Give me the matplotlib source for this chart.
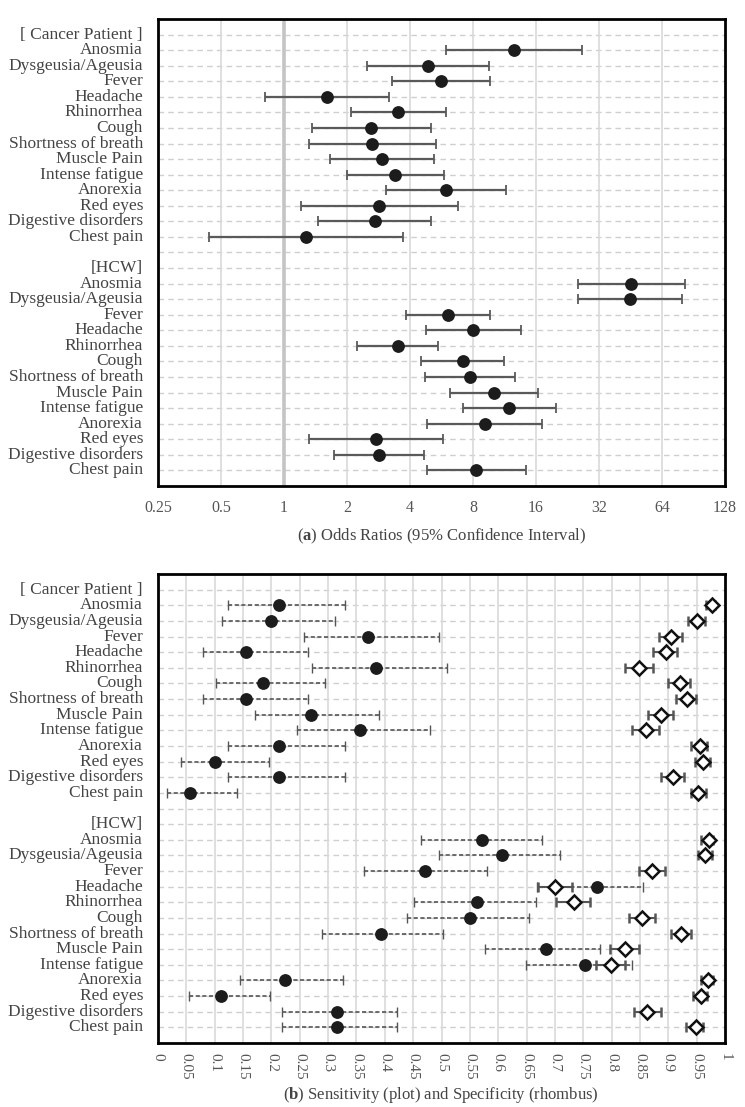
import matplotlib
matplotlib.use("Agg")
import matplotlib.pyplot as plt
import matplotlib.transforms as mtrans
from matplotlib.ticker import FixedLocator, FixedFormatter
import numpy as np

plt.rcParams['font.family'] = ['Liberation Serif', 'DejaVu Serif']
plt.rcParams['mathtext.fontset'] = 'custom'
plt.rcParams['mathtext.rm'] = 'Liberation Serif'
plt.rcParams['mathtext.bf'] = 'Liberation Serif:bold'

symptoms = ["Anosmia", "Dysgeusia/Ageusia", "Fever", "Headache", "Rhinorrhea", "Cough",
            "Shortness of breath", "Muscle Pain", "Intense fatigue", "Anorexia",
            "Red eyes", "Digestive disorders", "Chest pain"]
group_labels = ["[ Cancer Patient ]", "[HCW]"]

# (a) Odds ratios with 95% CI
cp_or    = [12.5, 4.86, 5.6, 1.61, 3.52, 2.61, 2.62, 2.93, 3.41, 5.93, 2.85, 2.71, 1.28]
cp_or_lo = [5.96, 2.50, 3.28, 0.81, 2.10, 1.36, 1.31, 1.66, 2.00, 3.06, 1.20, 1.46, 0.44]
cp_or_hi = [26.4, 9.55, 9.67, 3.17, 5.93, 5.03, 5.30, 5.20, 5.79, 11.55, 6.75, 5.03, 3.72]
hcw_or    = [45.7, 44.8, 6.06, 8.0, 3.49, 7.15, 7.70, 10.1, 11.9, 9.09, 2.74, 2.84, 8.30]
hcw_or_lo = [25.4, 25.3, 3.81, 4.76, 2.23, 4.49, 4.72, 6.24, 7.15, 4.82, 1.31, 1.74, 4.82]
hcw_or_hi = [82.3, 79.6, 9.63, 13.5, 5.46, 11.3, 12.7, 16.4, 19.9, 17.1, 5.74, 4.65, 14.3]
or_ticks = [0.25, 0.5, 1, 2, 4, 8, 16, 32, 64, 128]
or_tick_labels = ["0.25", "0.5", "1", "2", "4", "8", "16", "32", "64", "128"]

# (b) Sensitivity and specificity with 95% CI
cp_sens    = [0.213, 0.199, 0.370, 0.156, 0.385, 0.185, 0.156, 0.270, 0.357, 0.213, 0.100, 0.213, 0.056]
cp_sens_lo = [0.124, 0.113, 0.258, 0.080, 0.272, 0.103, 0.080, 0.171, 0.245, 0.124, 0.040, 0.124, 0.015]
cp_sens_hi = [0.329, 0.313, 0.495, 0.264, 0.509, 0.295, 0.264, 0.390, 0.480, 0.329, 0.195, 0.329, 0.139]
cp_spec    = [0.977, 0.951, 0.905, 0.896, 0.849, 0.920, 0.933, 0.887, 0.860, 0.956, 0.961, 0.909, 0.953]
cp_spec_lo = [0.966, 0.934, 0.883, 0.873, 0.823, 0.900, 0.914, 0.865, 0.836, 0.940, 0.947, 0.888, 0.940]
cp_spec_hi = [0.983, 0.964, 0.924, 0.916, 0.873, 0.938, 0.948, 0.908, 0.884, 0.969, 0.974, 0.928, 0.967]
hcw_sens    = [0.572, 0.606, 0.471, 0.774, 0.562, 0.550, 0.393, 0.684, 0.753, 0.224, 0.111, 0.315, 0.315]
hcw_sens_lo = [0.463, 0.496, 0.364, 0.669, 0.452, 0.440, 0.290, 0.577, 0.649, 0.144, 0.055, 0.219, 0.219]
hcw_sens_hi = [0.677, 0.709, 0.580, 0.856, 0.666, 0.655, 0.503, 0.780, 0.836, 0.326, 0.198, 0.422, 0.422]
hcw_spec    = [0.971, 0.965, 0.871, 0.701, 0.734, 0.854, 0.923, 0.824, 0.799, 0.970, 0.957, 0.863, 0.948]
hcw_spec_lo = [0.958, 0.953, 0.849, 0.671, 0.702, 0.830, 0.904, 0.797, 0.772, 0.958, 0.943, 0.839, 0.932]
hcw_spec_hi = [0.979, 0.977, 0.894, 0.730, 0.762, 0.876, 0.940, 0.849, 0.824, 0.978, 0.968, 0.887, 0.961]
ss_ticks = [round(0.05 * i, 2) for i in range(21)]
ss_tick_labels = ["0", "0.05", "0.1", "0.15", "0.2", "0.25", "0.3", "0.35", "0.4", "0.45", "0.5",
                  "0.55", "0.6", "0.65", "0.7", "0.75", "0.8", "0.85", "0.9", "0.95", "1"]

W, H = 745, 1107
fig = plt.figure(figsize=(W / 100, H / 100), dpi=100)

n = len(symptoms)
cp_rows = np.arange(1, n + 1)
hcw_rows = np.arange(n + 3, 2 * n + 3)
all_rows = np.arange(0, 2 * n + 3)
header_rows = [0, n + 2]

TXT = '#444444'

def fpos(l, t, r, b):
    return [l / W, 1 - b / H, (r - l) / W, (b - t) / H]

ax1 = fig.add_axes(fpos(158, 19, 725, 486))
ax2 = fig.add_axes(fpos(158, 574, 725, 1043))

def style(ax):
    ax.set_ylim(2 * n + 3, -1)
    ax.set_yticks([])
    for r in all_rows:
        ax.axhline(r, color='#cfcfcf', lw=1.0, ls=(0, (4, 3)), zorder=0)
    for s in ax.spines.values():
        s.set_linewidth(2.0)
        s.set_color('black')
    ax.tick_params(axis='x', length=0, labelsize=11.5, colors='#555555')

def labels(ax):
    tr = mtrans.blended_transform_factory(fig.transFigure, ax.transData)
    for r, lab in zip(header_rows, group_labels):
        fig.text(143 / W, r, lab, transform=tr, ha='right', va='center', fontsize=12.5, color=TXT)
    for rows in (cp_rows, hcw_rows):
        for r, lab in zip(rows, symptoms):
            fig.text(143 / W, r, lab, transform=tr, ha='right', va='center', fontsize=12.5, color=TXT)

# ---- panel (a)
style(ax1)
ax1.set_xscale('log', base=2)
ax1.set_xlim(0.25, 128)
ax1.xaxis.set_major_locator(FixedLocator(or_ticks))
ax1.xaxis.set_major_formatter(FixedFormatter(or_tick_labels))
ax1.xaxis.set_minor_locator(FixedLocator([]))
ax1.tick_params(axis='x', pad=10)
for t in or_ticks[1:-1]:
    if t == 1:
        ax1.axvline(t, color='#c4c4c4', lw=2.6, zorder=0.5)
    else:
        ax1.axvline(t, color='#d9d9d9', lw=1.2, zorder=0.5)
for rows, v, lo, hi in ((cp_rows, cp_or, cp_or_lo, cp_or_hi), (hcw_rows, hcw_or, hcw_or_lo, hcw_or_hi)):
    v = np.array(v); lo = np.array(lo); hi = np.array(hi)
    ax1.errorbar(v, rows, xerr=[v - lo, hi - v], fmt='o', color='#1c1c1c', ms=8.2,
                 ecolor='#5a5a5a', elinewidth=1.6, capsize=3.5, capthick=1.3, zorder=3)
labels(ax1)
fig.text(441 / W, 1 - 536 / H, r"($\mathbf{a}$) Odds Ratios (95% Confidence Interval)",
         ha='center', va='center', fontsize=12, color=TXT)

# ---- panel (b)
style(ax2)
ax2.set_xlim(0, 1)
ax2.xaxis.set_major_locator(FixedLocator(ss_ticks))
ax2.xaxis.set_major_formatter(FixedFormatter(ss_tick_labels))
ax2.tick_params(axis='x', pad=7, labelrotation=-90, labelsize=11)
for t in ss_ticks[1:-1]:
    ax2.axvline(t, color='#d9d9d9', lw=1.2, zorder=0.5)
for rows, s, slo, shi, p, plo, phi in (
        (cp_rows, cp_sens, cp_sens_lo, cp_sens_hi, cp_spec, cp_spec_lo, cp_spec_hi),
        (hcw_rows, hcw_sens, hcw_sens_lo, hcw_sens_hi, hcw_spec, hcw_spec_lo, hcw_spec_hi)):
    s = np.array(s); slo = np.array(slo); shi = np.array(shi)
    p = np.array(p); plo = np.array(plo); phi = np.array(phi)
    eb = ax2.errorbar(s, rows, xerr=[s - slo, shi - s], fmt='o', color='#1c1c1c', ms=8.2,
                      ecolor='#555555', elinewidth=1.2, capsize=3.5, capthick=1.0, zorder=3)
    eb[2][0].set_linestyle((0, (2.5, 1.5)))
    ax2.errorbar(p, rows, xerr=[p - plo, phi - p], fmt='D', mfc='white', mec='#111111', mew=1.8,
                 ms=7.5, ecolor='#555555', elinewidth=1.5, capsize=3.5, capthick=1.3, zorder=4)
labels(ax2)
fig.text(441 / W, 1 - 1095 / H, r"($\mathbf{b}$) Sensitivity (plot) and Specificity (rhombus)",
         ha='center', va='center', fontsize=12, color=TXT)

fig.savefig("out.png", dpi=100)
